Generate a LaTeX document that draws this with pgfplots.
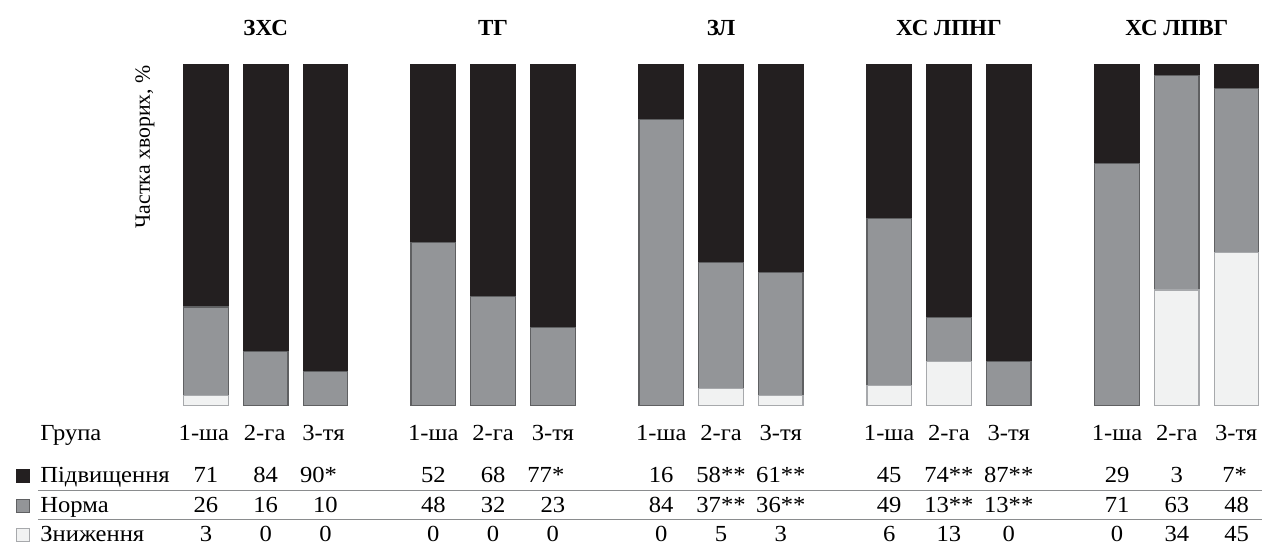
\documentclass[border=0pt]{standalone}
\usepackage{fontspec}
\setmainfont{Liberation Serif}[FakeStretch=1.07]
\newfontfamily\plainfont{Liberation Serif}
\usepackage{pgfplots}
\pgfplotsset{compat=1.18}
\definecolor{cblack}{HTML}{231F20}
\definecolor{cgray}{HTML}{939598}
\definecolor{cgrayedge}{HTML}{5F6062}
\definecolor{clight}{HTML}{F1F2F2}
\definecolor{clightedge}{HTML}{A7A9AC}
\definecolor{crule}{HTML}{8A8C8E}
\newcommand\tf{\fontsize{11.5pt}{13pt}\selectfont}
\newcommand\cell[3]{\node[anchor=base,inner sep=0pt,font=\tf] at (axis cs:#1,#2) {#3};}
\begin{document}
\begin{tikzpicture}
\begin{axis}[
  width=631pt, height=273.5pt, scale only axis,
  xmin=0, xmax=1262, ymin=-41.35, ymax=119.06,
  hide axis, clip=false,
  ybar stacked, bar width=44.5,
]
% Зниження
\addplot[fill=clight, draw=clightedge, line width=0.6pt] coordinates {
 (206,3) (265.8,0) (325.6,0)
 (433.5,0) (493.3,0) (553.1,0)
 (661.5,0) (721.3,5) (781.1,3)
 (889.5,6) (949.3,13) (1009.1,0)
 (1117.5,0) (1177.3,34) (1237.1,45)};
% Норма
\addplot[fill=cgray, draw=cgrayedge, line width=0.6pt] coordinates {
 (206,26) (265.8,16) (325.6,10)
 (433.5,48) (493.3,32) (553.1,23)
 (661.5,84) (721.3,37) (781.1,36)
 (889.5,49) (949.3,13) (1009.1,13)
 (1117.5,71) (1177.3,63) (1237.1,48)};
% Підвищення
\addplot[fill=cblack, draw=cblack, line width=0.6pt] coordinates {
 (206,71) (265.8,84) (325.6,90)
 (433.5,52) (493.3,68) (553.1,77)
 (661.5,16) (721.3,58) (781.1,61)
 (889.5,45) (949.3,74) (1009.1,87)
 (1117.5,29) (1177.3,3) (1237.1,7)};

% group titles
\node[anchor=base,inner sep=0pt,font=\plainfont\tf\bfseries] at (axis cs:265.8,108.5) {ЗХС};
\node[anchor=base,inner sep=0pt,font=\plainfont\tf\bfseries] at (axis cs:493.3,108.5) {ТГ};
\node[anchor=base,inner sep=0pt,font=\plainfont\tf\bfseries] at (axis cs:721.3,108.5) {ЗЛ};
\node[anchor=base,inner sep=0pt,font=\plainfont\tf\bfseries] at (axis cs:949.3,108.5) {ХС ЛПНГ};
\node[anchor=base,inner sep=0pt,font=\plainfont\tf\bfseries] at (axis cs:1177.3,108.5) {ХС ЛПВГ};

% y label
\node[rotate=90,anchor=east,inner sep=0pt,font=\plainfont\fontsize{10.9pt}{12pt}\selectfont] at (axis cs:145,100) {Частка хворих, \%};

% rules
\draw[crule, line width=0.5pt] (axis cs:38,-24.93) -- (axis cs:1262,-24.93);
\draw[crule, line width=0.5pt] (axis cs:38,-33.43) -- (axis cs:1262,-33.43);

% legend swatches
\node[fill=cblack, draw=cblack, line width=0.4pt, minimum size=6.5pt, inner sep=0pt] at (axis cs:23,-20.68) {};
\node[fill=cgray, draw=cgrayedge, line width=0.4pt, minimum size=6.5pt, inner sep=0pt] at (axis cs:23,-29.48) {};
\node[fill=clight, draw=clightedge, line width=0.4pt, minimum size=6.5pt, inner sep=0pt] at (axis cs:23,-37.84) {};

% row headers
\node[anchor=base west,inner sep=0pt,font=\tf] at (axis cs:40,-10.26) {Група};
\node[anchor=base west,inner sep=0pt,font=\tf] at (axis cs:40,-22.58) {Підвищення};
\node[anchor=base west,inner sep=0pt,font=\tf] at (axis cs:40,-31.38) {Норма};
\node[anchor=base west,inner sep=0pt,font=\tf] at (axis cs:40,-39.74) {Зниження};

% group row
\cell{204}{-10.26}{1-ша}\cell{264.8}{-10.26}{2-га}\cell{323.6}{-10.26}{3-тя}
\cell{433.5}{-10.26}{1-ша}\cell{493.3}{-10.26}{2-га}\cell{553.1}{-10.26}{3-тя}
\cell{661.5}{-10.26}{1-ша}\cell{721.3}{-10.26}{2-га}\cell{781.1}{-10.26}{3-тя}
\cell{889.5}{-10.26}{1-ша}\cell{949.3}{-10.26}{2-га}\cell{1009.1}{-10.26}{3-тя}
\cell{1117.5}{-10.26}{1-ша}\cell{1177.3}{-10.26}{2-га}\cell{1236.6}{-10.26}{3-тя}

% Підвищення row
\cell{206}{-22.58}{71}\cell{265.8}{-22.58}{84}\cell{318.6}{-22.58}{90*}
\cell{433.5}{-22.58}{52}\cell{493.3}{-22.58}{68}\cell{546.1}{-22.58}{77*}
\cell{661.5}{-22.58}{16}\cell{721.3}{-22.58}{58**}\cell{781.1}{-22.58}{61**}
\cell{889.5}{-22.58}{45}\cell{949.3}{-22.58}{74**}\cell{1009.1}{-22.58}{87**}
\cell{1117.5}{-22.58}{29}\cell{1177.3}{-22.58}{3}\cell{1235.1}{-22.58}{7*}

% Норма row
\cell{206}{-31.38}{26}\cell{265.8}{-31.38}{16}\cell{325.6}{-31.38}{10}
\cell{433.5}{-31.38}{48}\cell{493.3}{-31.38}{32}\cell{553.1}{-31.38}{23}
\cell{661.5}{-31.38}{84}\cell{721.3}{-31.38}{37**}\cell{781.1}{-31.38}{36**}
\cell{889.5}{-31.38}{49}\cell{949.3}{-31.38}{13**}\cell{1009.1}{-31.38}{13**}
\cell{1117.5}{-31.38}{71}\cell{1177.3}{-31.38}{63}\cell{1237.1}{-31.38}{48}

% Зниження row
\cell{206}{-39.74}{3}\cell{265.8}{-39.74}{0}\cell{325.6}{-39.74}{0}
\cell{433.5}{-39.74}{0}\cell{493.3}{-39.74}{0}\cell{553.1}{-39.74}{0}
\cell{661.5}{-39.74}{0}\cell{721.3}{-39.74}{5}\cell{781.1}{-39.74}{3}
\cell{889.5}{-39.74}{6}\cell{949.3}{-39.74}{13}\cell{1009.1}{-39.74}{0}
\cell{1117.5}{-39.74}{0}\cell{1177.3}{-39.74}{34}\cell{1237.1}{-39.74}{45}
\end{axis}
\path (current axis.south west) rectangle (current axis.north east);
\end{tikzpicture}
\end{document}
